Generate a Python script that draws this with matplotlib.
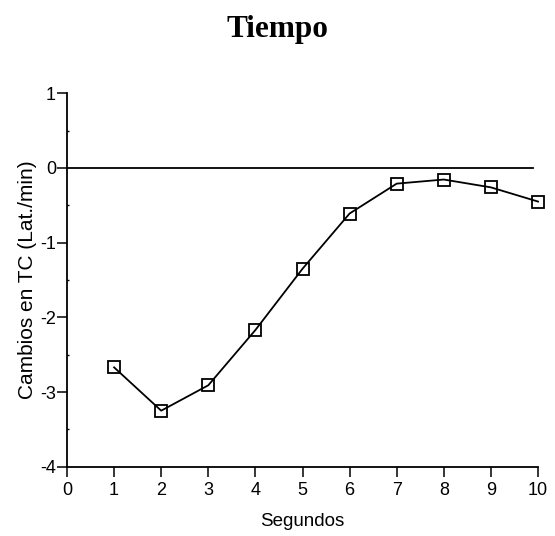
import matplotlib
matplotlib.use("Agg")
import matplotlib.pyplot as plt
from matplotlib.ticker import MultipleLocator

# data
segundos = [1, 2, 3, 4, 5, 6, 7, 8, 9, 10]
cambios = [-2.67, -3.25, -2.91, -2.17, -1.35, -0.61, -0.21, -0.155, -0.26, -0.45]
xticks = [0, 1, 2, 3, 4, 5, 6, 7, 8, 9, 10]
yticks = [-4, -3, -2, -1, 0, 1]

plt.rcParams['font.family'] = ['Liberation Sans', 'DejaVu Sans']
plt.rcParams['axes.unicode_minus'] = False

fig = plt.figure(figsize=(5.55, 5.36), dpi=100)
ax = fig.add_axes([0.1207, 0.1293, 0.8487, 0.6967])

# reference line at zero
ax.axhline(0, xmin=0, xmax=0.99, color='black', lw=1.3)

ax.plot(segundos, cambios, color='black', lw=1.3, marker='s', markersize=9,
        markerfacecolor='none', markeredgecolor='black', markeredgewidth=1.3,
        clip_on=False)

ax.set_xlim(0, 10)
ax.set_ylim(-4, 1)
ax.set_xticks(xticks)
ax.set_yticks(yticks)
ax.yaxis.set_minor_locator(MultipleLocator(0.5))

for side in ['top', 'right']:
    ax.spines[side].set_visible(False)
ax.spines['left'].set_linewidth(1.3)
ax.spines['bottom'].set_linewidth(1.3)

ax.tick_params(axis='x', which='major', direction='out', length=7, width=1.1,
               labelsize=13, pad=4)
ax.tick_params(axis='y', which='major', direction='out', length=7, width=1.1,
               labelsize=13, pad=1)
ax.tick_params(axis='y', which='minor', direction='in', length=1.5, width=1)

ax.set_xlabel('Segundos', fontsize=13.5, labelpad=10)
ax.set_ylabel('Cambios en TC (Lat./min)', fontsize=15, labelpad=2)

fig.text(0.5, 0.945, 'Tiempo', ha='center', va='center', fontsize=22.5,
         fontweight='bold', family='Liberation Serif')

plt.savefig('out.png', dpi=100)
